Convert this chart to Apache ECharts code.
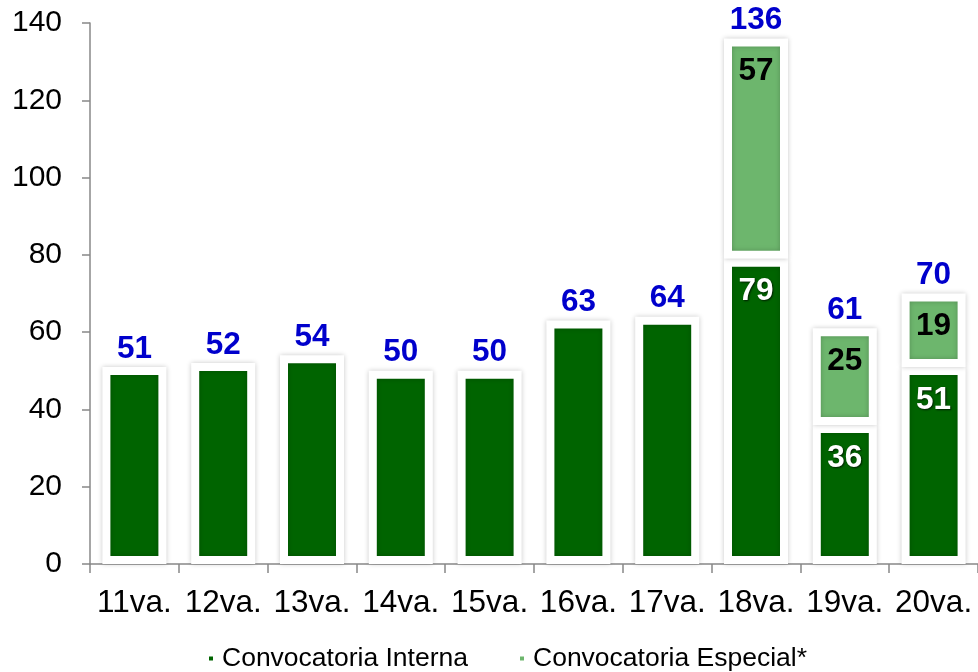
<!DOCTYPE html>
<html>
<head>
<meta charset="utf-8">
<script src="https://cdn.jsdelivr.net/npm/echarts@6/dist/echarts.min.js"></script>
<style>
  html, body { margin: 0; padding: 0; background: #fff; }
  #chart { width: 978px; height: 672px; }
</style>
</head>
<body>
<div id="chart"></div>
<script>
// datos
const categories = ['11va.', '12va.', '13va.', '14va.', '15va.', '16va.', '17va.', '18va.', '19va.', '20va.']
const interna = [51, 52, 54, 50, 50, 63, 64, 79, 36, 51]
const especial = ['-', '-', '-', '-', '-', '-', '-', 57, 25, 19]
const totals = [51, 52, 54, 50, 50, 63, 64, 136, 61, 70]
const yTicks = [0, 20, 40, 60, 80, 100, 120, 140]

const font = 'Arial, "Liberation Sans", sans-serif'
const barStyle = {
  borderColor: '#fff',
  borderWidth: 8,
  shadowBlur: 5,
  shadowColor: 'rgba(0,0,0,0.22)'
}

const chart = echarts.init(document.getElementById('chart'))
chart.setOption({
  animation: false,
  textStyle: { fontFamily: font },
  grid: { left: 90, top: 23, width: 893, height: 541 },
  legend: {
    data: ['Convocatoria Interna', 'Convocatoria Especial*'],
    left: 207,
    top: 645,
    padding: 0,
    icon: 'rect',
    itemWidth: 6,
    itemHeight: 6,
    itemGap: 50,
    textStyle: { fontSize: 26.5, color: '#000', fontFamily: font, padding: [0, 0, 0, 3] }
  },
  xAxis: {
    type: 'category',
    data: categories,
    axisLine: { lineStyle: { color: '#888', width: 1.5 } },
    axisTick: { show: true, length: 9, lineStyle: { color: '#888', width: 1.5 } },
    axisLabel: { interval: 0, fontSize: 31.5, color: '#000', margin: 23, fontFamily: font }
  },
  yAxis: {
    type: 'value',
    min: yTicks[0],
    max: yTicks[yTicks.length - 1],
    interval: 20,
    splitLine: { show: false },
    axisLine: { show: true, lineStyle: { color: '#888', width: 1.5 } },
    axisTick: { show: true, length: 8, lineStyle: { color: '#888', width: 1.5 } },
    axisLabel: { fontSize: 30, color: '#000', margin: 28, fontFamily: font }
  },
  series: [
    {
      name: 'Convocatoria Interna',
      type: 'bar',
      stack: 'total',
      barWidth: 64,
      data: interna,
      itemStyle: Object.assign({ color: '#006400' }, barStyle),
      label: {
        show: true,
        position: 'insideTop',
        distance: 17,
        fontSize: 31.5,
        fontWeight: 'bold',
        color: '#fff',
        fontFamily: font,
        textShadowColor: 'rgba(0,0,0,0.7)',
        textShadowBlur: 2,
        textShadowOffsetX: 1,
        textShadowOffsetY: 1,
        formatter: p => (especial[p.dataIndex] === '-' ? '' : p.value)
      }
    },
    {
      name: 'Convocatoria Especial*',
      type: 'bar',
      stack: 'total',
      barWidth: 64,
      data: especial,
      itemStyle: Object.assign({ color: '#6db66d' }, barStyle),
      label: {
        show: true,
        position: 'insideTop',
        distance: 17,
        fontSize: 31.5,
        fontWeight: 'bold',
        color: '#000',
        fontFamily: font
      }
    },
    {
      name: 'total',
      type: 'bar',
      stack: 'total',
      barWidth: 64,
      data: totals.map(() => 0),
      itemStyle: { color: 'transparent' },
      label: {
        show: true,
        position: 'top',
        distance: 2,
        fontSize: 31.5,
        fontWeight: 'bold',
        color: '#0000cc',
        fontFamily: font,
        formatter: p => totals[p.dataIndex]
      }
    }
  ]
})
</script>
</body>
</html>
